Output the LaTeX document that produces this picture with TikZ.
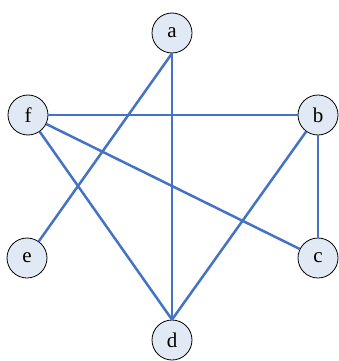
\documentclass[tikz,border=0pt]{standalone}
\usepackage{fontspec}
\setmainfont{Liberation Serif}
\definecolor{edgeblue}{HTML}{4472C4}
\definecolor{nodefill}{HTML}{E1E9F5}
\begin{document}
\begin{tikzpicture}[x=1pt,y=-1pt,
  vert/.style={circle,draw=black,line width=0.8pt,fill=nodefill,minimum size=40pt,inner sep=0pt,font=\fontsize{21}{21}\selectfont},
  edge/.style={draw=edgeblue,line width=2.5pt}]
\useasboundingbox (0,0) rectangle (338,361);
\node[vert] (a) at (172,33) {a};
\node[vert] (f) at (28,115) {f};
\node[vert] (b) at (318,115) {b};
\node[vert] (e) at (27,258) {e};
\node[vert] (c) at (318,258) {c};
\node[vert] (d) at (172,340) {d};
\draw[edge] (a.south) -- (e);
\draw[edge] (a.south) -- (d.north);
\draw[edge] (f) -- (b);
\draw[edge] (f) -- (c);
\draw[edge] (f) -- (d.north);
\draw[edge] (b) -- (d.north);
\draw[edge] (b) -- (c);
\end{tikzpicture}
\end{document}
